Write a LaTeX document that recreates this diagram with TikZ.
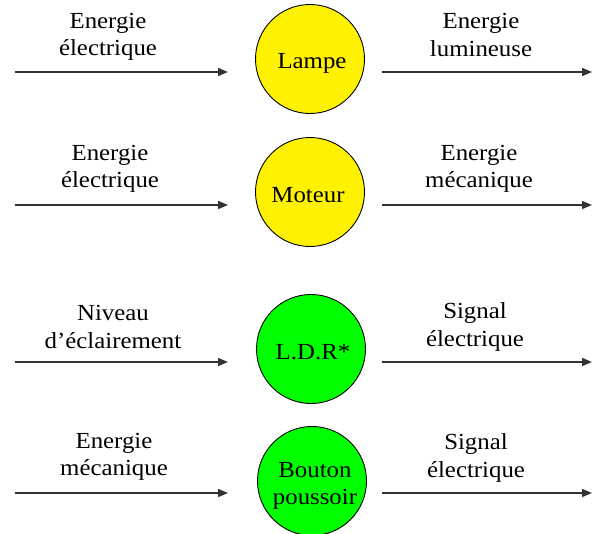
\documentclass[tikz,border=0pt]{standalone}
\usepackage{fontspec}
\setmainfont[FakeStretch=1.08]{Liberation Serif}
\usetikzlibrary{arrows.meta}
\begin{document}
\begin{tikzpicture}[x=1pt,y=-1pt,
  comp/.style={circle,draw=black,line width=0.9pt,minimum size=109pt,inner sep=0pt,align=center,font=\fontsize{23}{28}\selectfont},
  yel/.style={comp,fill=yellow},
  grn/.style={comp,fill=green},
  lbl/.style={align=center,inner sep=0pt,font=\fontsize{23}{27.5}\selectfont},
  flow/.style={draw=black!80,line width=1.5pt,-{Triangle[length=10pt,width=8pt]}}]
\useasboundingbox (0,0) rectangle (597,533);
\begin{scope}
\clip (0,0) rectangle (597,533);
% components
\node[yel] (lampe) at (310,59) {};
\node[lbl] (tlampe) at (312,63) {Lampe};
\node[yel] (moteur) at (310,192) {};
\node[lbl] (tmoteur) at (308,195) {Moteur};
\node[grn] (ldr) at (311,349) {};
\node[lbl] (tldr) at (313,352) {L.D.R*};
\node[grn] (bouton) at (312,481) {};
\node[lbl] (tbouton) at (315,486) {Bouton\\poussoir};
\end{scope}
% arrow end points
\foreach \r/\y in {1/72,2/205,3/362,4/493}{
  \coordinate (ls\r) at (15,\y);
  \coordinate (le\r) at (228,\y);
  \coordinate (rs\r) at (382,\y);
  \coordinate (re\r) at (592,\y);
}
\foreach \r in {1,2,3,4}{
  \draw[flow] (ls\r) -- (le\r);
  \draw[flow] (rs\r) -- (re\r);
}
% labels
\node[lbl] (a1) at (108,37) {Energie\\électrique};
\node[lbl] (b1) at (481,35) {Energie\\lumineuse};
\node[lbl] (a2) at (110,169) {Energie\\électrique};
\node[lbl] (b2) at (479,169) {Energie\\mécanique};
\node[lbl] (a3) at (113,327) {Niveau\\d’éclairement};
\node[lbl] (b3) at (475,327) {Signal\\électrique};
\node[lbl] (a4) at (114,457) {Energie\\mécanique};
\node[lbl] (b4) at (476,458) {Signal\\électrique};
\end{tikzpicture}
\end{document}
